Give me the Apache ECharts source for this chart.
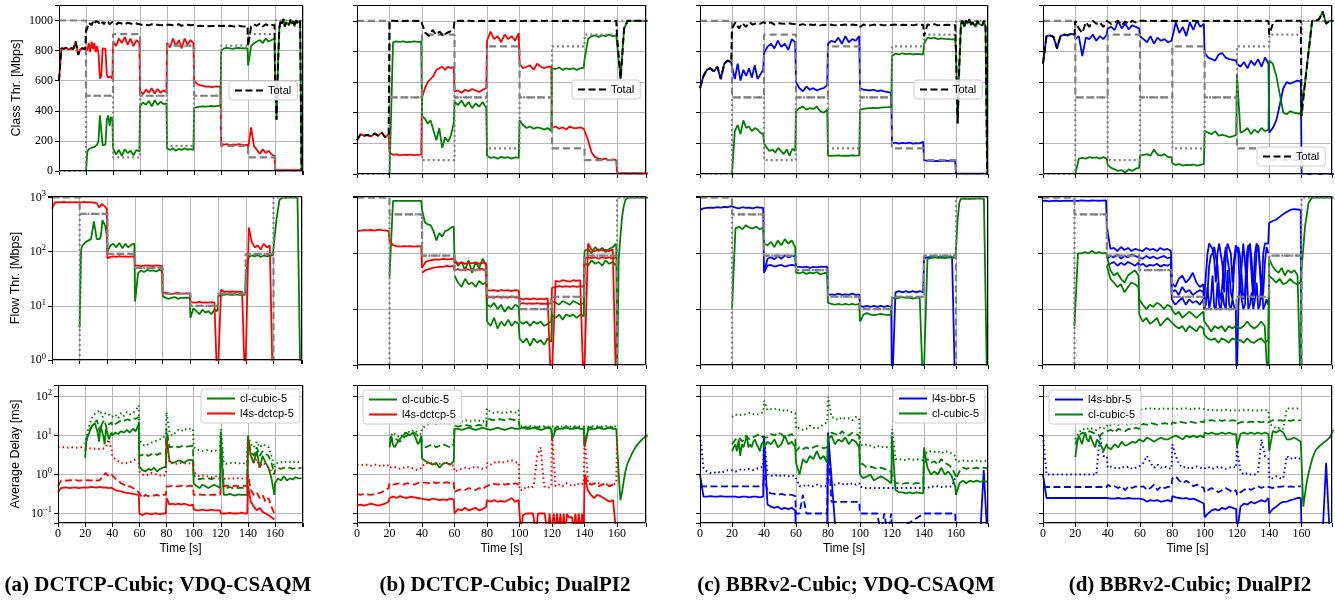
<!DOCTYPE html>
<html><head><meta charset="utf-8">
<script src="https://cdn.jsdelivr.net/npm/echarts/dist/echarts.min.js"></script>
<style>html,body{margin:0;padding:0;background:#fff}#c{width:1335px;height:600px}</style>
</head><body><div id="c"></div>
<script>
// ===================== DATA (values per 20 s phase) =====================
const EXP_L4S_CLASS = [1000,500,909,500,833,500,167,91,0];
const EXP_CL_CLASS  = [0,500,91,500,167,500,833,909,1000];
const EXP_FLOW_L4S  = [1000,500,90.9,50,16.7,10,16.7,90.9,0.01];
const EXP_FLOW_CL   = [0.01,500,90.9,50,16.7,10,16.7,90.9,1000];
const X_TICKS = [0,20,40,60,80,100,120,140,160];

// ---------- (a) DCTCP-Cubic; VDQ-CSAQM ----------
const A1_l4s = [[600,815,812,818,808,815,812,860,772,812,815,810],
 [820,800,850,790,860,810,850,790,830,780,615,630,815,805,812,640,620,615,630,610],
 [860,830,880,850,890,840,880,830,870,850],[530,510,540,520,550,515,545,520,535,525],
 [850,820,880,830,870,815,880,840,870,850],[600,580,570,565,560,562,558,560,562,560],
 [180,175,178,172,176,174,178,175,172,176],[150,290,165,140,115,145,120,135,110,100],[5,5,5,5]];
const A1_cl = [null,
 [0,130,145,150,155,160,160,170,175,200,370,360,170,165,175,340,370,300,360,340],
 [150,110,140,100,145,120,135,105,140,130],[430,455,440,465,430,470,440,460,445,450],
 [150,140,150,135,148,140,150,142,145,140],[420,425,428,430,428,430,432,430,433,435],
 [800,815,818,815,812,816,818,815,816,815],[700,830,850,860,870,850,880,860,870,880],
 [600,340,700,950,1000,980,1010,960,990,1000,970,1005,980,995,960,1000,985,990,1000,0]];
const A1_tot = [[600,815,812,818,808,815,812,860,772,812,815,810],
 [930,950,985,990,970,990,975,995,985,990,970,980,990,975,995,985,990,975,985,990],
 [990,975,985,980,975,985,980,975,980,975],[975,970,972,968,975,970,972,968,970,972],
 [970,972,968,970,975,965,970,972,968,970],[965,962,965,963,965,962,964,963,965,963],
 [963,965,960,965,962,960,965,962,960,963],[830,960,975,965,980,960,975,965,970,968],
 [600,340,700,950,1000,980,1010,960,990,1000,970,1005,980,995,960,1000,985,990,1000,0]];
const A2_l4s = [[620,810,820,815,825,810,820,815,820,810],
 [820,810,830,815,820,810,800,780,650,760,700,620],
 [75,80,82,80,83,81,82,80,82,81],[56,55,54,55,56,55,54,56,55,54],
 [17,17.5,17,16.5,17,17.5,17,16.8,17,17],[12,11.5,11.5,11.8,11.5,11.6,11.5,11.7,11.5,0.3],
 [0.3,20,18,18.5,18,18.5,18,18.3,18,0.3],[0.3,280,150,120,130,110,140,120,130,0.3],null];
const A2_cl = [null,
 [4,110,130,140,150,155,160,165,170,250,360,250,170,160,170,200,380,360,300,200],
 [100,130,140,120,145,115,140,120,135,140],[12,40,45,42,46,44,45,43,46,44],
 [15,14,13.5,14,14.5,13.5,14,14,14.2,14],[6,9,8,7,8.5,7.5,8,7,8.5,8],
 [15,16,16,16.5,16,16,16.2,16,16,16],[40,80,85,82,86,80,85,82,84,85],
 [90,400,900,1000,980,1000,990,1000,990,0.3]];
const A3_cl_avg = [null,[2.7,8,10,12,15,18,20,21,19,12,7,18,20,10,6,15,12,8,10,12],
 [10,12,11,13,12,14,12,15,13,20],[1.6,1.3,1.2,1.4,1.3,1.5,1.2,1.4,1.5,1.6],
 [10,2.2,2.0,2.1,2.3,2.2,2.0,2.3,2.4,2.3],[0.6,0.5,0.45,0.55,0.5,0.45,0.5,0.55,0.5,0.45],
 [10,0.3,0.3,0.32,0.3,0.29,0.31,0.3,0.3,0.3],[10,3,2,4,1.5,3,2,1.5,0.8,0.3],
 [0.6,0.8,0.7,0.9,0.7,0.8,0.75,0.85,0.8,0.8]];
const A3_cl_med = [null,[4,10,15,18,22,25,12,20,25,15,20,22],[18,20,22,25,24,26,25,28,27,30],
 [3,3.2,3.5,3,3.3,3.6,3.2,3.5,3.4,3.3],[15,5,5.2,5.5,5,5.3,5.5,5.2,5.4,5.5],
 [1,0.8,0.75,0.8,0.78,0.8,0.76,0.8,0.78,0.8],[12,0.5,0.45,0.48,0.45,0.47,0.45,0.46,0.45,0.46],
 [8,4,3,5,3,4,3.5,3,2,1],[1.3,1.5,1.4,1.5,1.45,1.5,1.4,1.5,1.45,1.5]];
const A3_cl_p99 = [null,[6,15,25,35,40,45,30,38,35,30],[30,35,28,38,32,40,35,38,45,60],
 [8,6,5.5,6,6.5,7,7.5,8,9,10],[40,12,10,12,14,13,15,14,15,15],[5,4.5,4.2,4,4.2,4.3,4,4.2,4.1,4.2],
 [15,2,1.9,2,1.95,2,1.9,2,1.95,2],[10,6,5,7,5,6,5.5,5,3,1.5],[1.8,2,2.1,2,2.2,2.1,2,2.2,2.1,2.2]];
const A3_l4s_avg = [[0.35,0.45,0.46,0.47,0.45,0.46,0.47,0.45,0.46,0.47],
 [0.47,0.46,0.48,0.47,0.46,0.48,0.46,0.47,0.45,0.46],[0.42,0.4,0.38,0.37,0.35,0.34,0.33,0.32,0.31,0.3],
 [0.1,0.09,0.1,0.1,0.095,0.1,0.1,0.095,0.1,0.1],[0.25,0.17,0.18,0.17,0.18,0.17,0.18,0.17,0.16,0.17],
 [0.13,0.12,0.12,0.125,0.12,0.12,0.125,0.12,0.12,0.12],[0.1,0.1,0.1,0.105,0.1,0.1,0.1,0.105,0.1,0.1],
 [0.5,0.2,0.15,0.12,0.14,0.11,0.1,0.09,0.08,0.07],null];
const A3_l4s_med = [[0.5,0.7,0.72,0.7,0.72,0.7,0.72,0.7,0.71,0.7],[0.7,0.72,0.7,0.75,0.7,0.72,0.9,1.1,0.9,1.0],
 [1.0,0.8,0.7,0.6,0.55,0.5,0.5,0.45,0.4,0.35],[0.35,0.25,0.3,0.28,0.3,0.29,0.3,0.28,0.3,0.3],
 [0.5,0.5,0.52,0.5,0.5,0.52,0.5,0.5,0.52,0.5],[0.3,0.3,0.31,0.3,0.3,0.31,0.3,0.3,0.31,0.3],
 [0.5,0.5,0.52,0.5,0.5,0.52,0.5,0.5,0.52,0.5],[1,0.4,0.3,0.35,0.25,0.3,0.2,0.25,0.15,0.1],null];
const A3_l4s_p99 = [[5,5,5,4.9,5,5,4.9,5,5,5],[5,4.8,4.7,4.6,4.7,4.5,4.6,5,8,4.5],
 [3,2.5,2.2,2,1.9,2,2.1,2.2,2.5,2.6],[1.2,1,0.95,1,1.1,1.05,1,0.95,0.9,1],
 [8,2,1.95,1.9,1.9,2,1.95,1.9,1.95,1.9],[1.2,1,0.9,0.95,0.9,0.9,0.85,0.9,0.9,0.85],
 [0.8,0.8,0.75,0.8,0.8,0.78,0.8,0.8,0.78,0.8],[8,3,2,2.5,1.5,2,1.8,1.5,1.2,1],null];

// ---------- (b) DCTCP-Cubic; DualPI2 ----------
const B1_l4s = [[220,260,250,255,245,265,250,270,240,260],[140,125,128,122,126,124,127,123,125,126],
 [500,560,600,620,640,680,690,700,680,700,690,700],[540,545,530,550,540,555,545,535,550,560],
 [870,930,880,900,860,910,880,900,870,920],[720,690,700,710,680,720,700,690,700,700],
 [300,310,295,305,290,310,300,300,305,295],[300,220,140,110,100,95,100,90,95,90],[5,5,5,5]];
const B1_cl = [null,[0,860,865,862,866,860,863,865,862,864],
 [380,360,330,350,280,220,300,170,240,210,250,330],[470,450,480,440,470,430,460,440,470,430],
 [120,105,110,100,112,105,110,100,108,105],[350,320,300,310,295,305,300,290,300,280],
 [690,685,695,680,690,685,690,680,690,695],[750,880,900,905,895,905,900,910,900,905],
 [900,620,950,1000,1000,1000,1000,1000,1000,1000]];
const B1_tot = [[220,260,250,255,245,265,250,270,240,260],[1000,1000,998,1000,999,1000,998,1000,999,1000],
 [980,920,900,940,910,930,900,920,930,950],[1000,998,1000,999,1000,998,1000,999,1000,998],
 [1000,999,1000,998,1000,999,1000,998,1000,999],[1000,998,1000,999,1000,998,1000,999,1000,998],
 [1000,999,1000,998,1000,999,1000,998,1000,999],[1000,998,1000,999,1000,998,1000,999,1000,998],
 [900,620,950,1000,1000,1000,1000,1000,1000,1000]];
const B2_l4s = [[250,255,260,258,262,255,265,260,258,250],[165,140,135,132,135,133,134,132,135,133],
 [55,70,74,76,78,77,80,78,79,80],[68,66,69,65,68,66,69,65,68,66],[22,21.5,22,21,22,21.5,22,21,22,21.5],
 [15.6,15,15.5,15,15.6,15,15.5,15,15.6,0.3],[0.3,32,31,33,32,31,33,32,33,0.3],
 [0.3,150,115,110,118,112,115,110,118,0.3],null];
const B2_l4s_lo = [null,null,[45,50,52,55,56,58,57,60,58,60],[50,52,50,53,51,52,50,53,52,51],
 [16,16.5,16,17,16,16.5,16,17,16,16.5],[12.5,12.8,12.5,12.7,12.5,12.8,12.5,12.6,12.5,12.7],
 [24,25,26,25,26,25,26,25,26,25],[80,85,82,85,80,85,82,85,80,85],null];
const B2_cl = [null,[38,870,870,872,870,868,870,872,870,870],
 [600,360,330,320,250,170,230,200,250,260,290,300],[80,60,70,50,75,45,70,55,80,60],
 [12,11,13,10,12,9,11,10,12,11],[6,5.5,6,5,6,5.5,6,5,5.5,6],[14,13,12,14,13,12,14,13,12,13],
 [110,120,100,130,110,125,105,120,130,150],
 [0.5,80,200,450,700,900,980,1000,1000,1000,1000,1000,1000,1000,1000,1000,1000,1000,1000,1000]];
const B2_cl_lo = [null,null,null,[40,30,25,35,28,30,25,32,28,30],[6,5,7,4.5,6,5,6.5,5,6,5.5],
 [3,2.5,3,2.2,3,2.5,2.8,2.3,3,2.6],[8,7,8,6.5,8,7.5,8,7,8,7.5],[70,60,75,65,70,60,75,65,70,60],null];
const B3_cl_avg = [null,[5,10,6,5,6,7,8,9,10,11,12,11,10,9,12,10,8,6,7,10],
 [2.6,2.2,2,1.8,2,1.5,1.9,2,1.8,2.2],[15,15,14,15,16,15,14,15,16,15],[15,14,15,16,15,14,15,16,15,15],
 [15,16,15,15,16,15,14,15,16,15],[8,14,15,15,16,15,15,16,15,15],[5,14,15,15,16,15,15,16,15,15],
 [15,1,0.22,0.35,0.7,1.2,1.8,2.3,2.8,3.5,4.2,5,5.7,6.5,7.3,8,8.8,9.5,10.2,10.5]];
const B3_cl_med = [null,[6,9,8,7,9,10,11,12,10,9],[6,5,5.5,6,5,5.5,6,5.5,5,6],
 [18,17,18,19,18,17,18,19,18,17],[28,26,25,27,26,25,27,26,25,24],[16,16.5,16,16.5,16,16.5,16,16.5,16,16.5],
 [10,16,16.5,16,16.5,16,16.5,16,16.5,16],[6,16,16.5,16,16.5,16,16.5,16,16.5,16],null];
const B3_cl_p99 = [null,[8,12,10,9,11,13,12,14,12,11],[15,18,20,22,20,21,22,20,21,22],
 [22,24,23,25,24,23,25,24,23,25],[50,40,38,40,39,38,40,41,39,45],[17,17.5,17,17.5,17,17.5,17,17.5,17,17.5],
 [17,17,17.5,17,17.5,17,17.5,17,17.5,17],[17,17,17.5,17,17.5,17,17.5,17,17.5,17],null];
const B3_l4s_avg = [[0.16,0.17,0.16,0.17,0.18,0.17,0.16,0.17,0.18,0.2],[0.25,0.27,0.25,0.28,0.26,0.25,0.27,0.26,0.25,0.24],
 [0.22,0.23,0.22,0.24,0.23,0.22,0.23,0.22,0.24,0.23],[0.1,0.13,0.12,0.14,0.12,0.13,0.14,0.12,0.13,0.15],
 [0.22,0.2,0.22,0.2,0.21,0.2,0.22,0.25,0.2,0.22],
 [0.1,0.03,0.09,0.1,0.1,0.1,0.1,0.1,0.1,0.1,0.03,0.1,0.1,0.1,0.1,0.1,0.1,0.03,0.1,0.03],
 [0.03,0.1,0.03,0.1,0.03,0.1,0.03,0.1,0.03,0.1,0.08,0.08,0.08,0.03,0.1,0.03,0.1,0.03,0.1,0.03],
 [1,0.4,0.3,0.25,0.3,0.28,0.25,0.22,0.2,0.22,0.03],null];
const B3_l4s_med = [[0.32,0.3,0.32,0.31,0.3,0.32,0.33,0.35,0.4,0.45],[0.6,0.55,0.58,0.6,0.55,0.6,0.58,0.55,0.6,0.62],
 [0.6,0.62,0.6,0.65,0.6,0.62,0.6,0.64,0.6,0.62],[0.35,0.4,0.42,0.4,0.45,0.42,0.4,0.45,0.42,0.5],
 [0.5,0.55,0.58,0.55,0.6,0.55,0.58,0.55,0.6,0.55],null,null,[1,0.6,0.55,0.6,0.5,0.55,0.6,0.5,0.55,0.6],null];
const B3_l4s_p99 = [[1.8,1.8,1.75,1.8,1.7,1.8,1.75,1.6,1.8,1.7],[1.5,1.6,1.5,1.4,1.5,1.6,1.5,1.4,1.3,1.5],
 [1.5,2,1.9,2,1.8,1.9,2,1.9,1.8,1.7],[1.2,1.3,1.4,1.5,1.4,1.5,1.6,1.5,1.4,1.5],
 [2,1.8,2,2.2,2,2.1,2.2,2.3,2.1,2],[0.4,0.4,0.5,0.45,0.5,3,5,0.5,0.45,0.5],
 [10,0.5,0.55,0.5,0.6,0.55,0.5,0.6,0.55,0.6],[10,0.6,0.55,0.6,0.6,0.55,0.6,0.5,0.55,0.6],[8]];

// ---------- (c) BBRv2-Cubic; VDQ-CSAQM ----------
const C1_l4s = [[560,640,680,690,670,700,620,720,740,730],[700,620,720,610,680,640,690,630,710,620,650,680],
 [790,830,850,820,870,830,850,810,880,860],[600,560,540,570,550,560,545,555,560,580],
 [850,870,860,890,850,900,860,880,870,900],[560,550,548,545,550,540,545,540,535,530],
 [200,205,198,203,200,205,198,202,200,210],[90,85,87,84,86,85,88,86,87,84],[2,2,2,2]];
const C1_cl = [null,[0,280,320,260,350,300,310,280,300,290,270,260],
 [200,170,150,160,140,170,150,130,160,120,165,150],[410,430,440,420,430,425,440,410,400,420],
 [120,118,120,122,118,120,119,121,120,122],[420,425,428,430,432,430,433,435,436,438],
 [770,785,780,788,782,785,780,784,782,780],[850,890,885,890,880,885,882,880,878,880],
 [800,330,700,980,1000,960,1000,980,1010,970,990,1000,960,1000,980,990,970,1000,960,0]];
const C1_tot = [[560,640,680,690,670,700,620,720,740,730],[950,990,950,985,960,990,975,985,980,990],
 [985,980,990,975,985,982,980,985,980,978],[975,972,978,970,975,972,976,970,974,972],
 [972,975,970,974,972,976,970,975,972,974],[960,975,972,970,975,972,974,970,973,972],
 [972,975,970,974,972,976,970,975,972,974],[900,975,972,978,970,975,972,974,970,972],
 [800,330,700,980,1000,960,1000,980,1010,970,990,1000,960,1000,980,990,970,1000,960,0]];
const C2_l4s = [[600,640,650,660,650,670,660,680,670,700],[650,660,640,670,650,660,640,670,660,650],
 [45,80,85,78,90,80,92,85,88,90],[58,57,56,58,55,57,56,58,57,58],[18,18.5,18,19,18,18.5,18,19,18,18.5],
 [11.5,11,11.5,11,11.5,11,11.5,11,11.5,11],[0.3,20,21,20,21,20,21,20,21,20],
 [80,85,86,87,85,86,87,85,86,87,0.3],null];
const C2_l4s_lo = [null,null,[45,60,62,58,60,62,58,60,62,60],null,null,null,null,null,null];
const C2_cl = [null,[10,280,300,270,320,290,280,300,270,290],[150,140,160,130,170,140,180,150,170,130],
 [45,44,46,43,45,44,46,42,44,45],[13,12.5,12,12.5,12,12.5,12,12.5,12,12.5],[6,8,8.5,8,7.8,8,8.2,8,7.8,8],
 [16,15.5,16,16.5,16,16,15.5,16,16,0.3],[0.3,80,82,85,83,84,82,85,83,84],
 [120,400,800,950,960,950,940,960,950,945,960,950,940,955,950,960,945,950,955,0.3]];
const C3_l4s_avg = [[1,0.27,0.27,0.28,0.27,0.27,0.28,0.27,0.27,0.27],[0.27,0.27,0.26,0.27,0.27,0.26,0.27,0.27,0.26,0.27],
 [10,0.17,0.15,0.14,0.15,0.13,0.14,0.13,0.14,0.12],[0.03,0.03,0.03,0.03,0.03],[12,0.03,0.03,0.03,0.03],
 [0.03],[0.03],[0.03],[0.03,0.03,0.03,0.03,0.03,0.03,0.03,0.03,1.3,0.03]];
const C3_l4s_med = [[0.5,0.5,0.5,0.5,0.5,0.5,0.5,0.5,0.5,0.5],[0.5,0.5,0.5,0.5,0.5,0.5,0.5,0.5,0.5,0.5],
 [1,0.35,0.33,0.32,0.3,0.32,0.3,0.31,0.3,0.28],[0.1,0.1,0.3,0.1,0.1,0.1,0.1,0.1,0.1,0.1],
 [8,0.2,0.2,0.2,0.2,0.2,0.2,0.2,0.2,0.2],[0.1,0.1,0.1,0.1,0.1,0.1,0.03,0.1,0.03,0.1],[0.03],
 [0.1,0.1,0.1,0.1,0.1,0.1,0.1,0.1,0.1,0.1],[0.03]];
const C3_l4s_p99 = [[10,1.5,1.2,1.1,1.1,1.2,1.1,1.2,1.3,1.3],[1.3,1.2,1.3,1.4,1.3,1.4,1.3,1.4,1.5,1.6],
 [10,1,0.95,0.9,1,0.9,0.95,0.9,0.95,0.9],[0.8,0.5,0.5,0.55,0.5,0.5,0.55,0.5,0.5,0.5],
 [10,0.6,0.55,0.6,0.55,0.6,0.55,0.6,0.55,0.6],[0.5,0.45,0.45,0.45,0.45,0.45,0.45,0.45,0.45,0.45],
 [0.45,0.45,0.45,0.45,0.45,0.45,0.45,0.45,0.45,0.45],[0.5,0.45,0.5,0.48,0.5,0.48,0.5,0.48,0.5,0.8],null];
const C3_cl_avg = [null,[4,5,6,4,8,3,6,5,7,10,5,6,5,7,8,6,5,4,6,7],[5,7,6,8,5,6,10,6,7,5],
 [2,1,2.5,2,3,2.5,4,2.5,3,2],[8,10,6,8,7,9,6,8,7,5],[1,0.8,0.9,1,0.7,0.8,0.9,0.8,0.7,0.6],
 [10,0.4,0.35,0.35,0.33,0.35,0.33,0.35,0.34,0.33],[5,1.5,1,1.2,1,1.5,1,1.2,0.9,0.5],
 [0.3,0.6,0.7,0.6,0.7,0.65,0.7,0.65,0.7,0.65]];
const C3_cl_med = [null,[6,8,9,7,10,8,9,10,11,9],[10,9,11,10,12,11,9,10,11,8],[4,5,4.5,5,4.5,5,5.5,5,4.8,5],
 [10,12,11,10,13,11,10,12,11,10],[2,1.8,1.5,1.6,1.5,1.4,1.5,1.4,1.3,1.2],[1,0.6,0.6,0.58,0.6,0.6,0.58,0.6,0.6,0.58],
 [2,2.5,2,2.2,1.8,2.5,2,1.8,1.5,1],[0.8,1.2,1.5,1.4,1.5,1.45,1.5,1.4,1.5,1.45]];
const C3_cl_p99 = [null,[30,35,33,36,35,38,36,34,37,40],[80,45,48,50,45,48,42,45,40,38],
 [15,16,14,15,18,16,15,17,20,22],[100,30,28,25,30,27,28,25,30,28],[6,5.5,6,5.5,5,5.5,5,5.2,5,5],
 [15,2.5,2.4,2.5,2.3,2.5,2.4,2.5,2.4,2.3],[4,3.5,4,3.8,4,3.5,4,3.8,3.5,3],[2.2,2.2,2.3,2.2,2.3,2.2,2.3,2.2,2.2,2.3]];

// ---------- (d) BBRv2-Cubic; DualPI2 ----------
const D1_l4s = [[720,900,905,895,820,900,910,905,915,910],[880,900,770,890,880,910,870,900,880,910],
 [950,960,940,1000,950,980,945,970,960,950],[900,880,860,900,850,890,870,880,860,870],
 [880,990,920,960,900,990,940,1000,960,980],[790,760,750,740,780,790,760,750,745,740],
 [720,700,730,690,740,710,750,700,760,720],[270,300,350,450,560,600,590,600,610,605],[0,0,0]];
const D1_cl = [null,[0,100,105,100,110,105,108,100,110,100],[60,40,30,20,25,10,30,20,35,40],
 [120,125,130,120,160,125,120,130,110,110],[70,60,65,55,60,58,62,55,60,65],
 [280,270,260,280,250,255,250,240,245,255],[650,270,280,300,260,290,270,300,280,290],
 [740,720,640,520,400,390,410,400,395,395],[400,600,800,1000,1000,1010,1060,980,1000,1000]];
const D1_tot = [[720,900,905,895,820,900,910,905,915,910],[1000,950,920,990,960,1000,980,990,960,1000],
 [1000,980,990,1000,970,995,980,1000,990,1000],[1000,1000,998,1000,999,1000,998,1000,999,1000],
 [1000,999,1000,998,1000,999,1000,998,1000,999],[1000,998,1000,999,1000,998,1000,999,1000,998],
 [1000,999,1000,998,1000,999,1000,998,1000,999],[910,980,1000,1000,1000,1000,1000,1000,1000,1000],
 [380,600,800,1000,1000,1010,1060,980,1000,1000]];
const D2_l4s = [[860,880,850,870,880,860,870,880,870,880],[880,870,890,880,870,885,880,875,880,885],
 [300,120,125,110,130,115,125,110,120,115],[120,110,125,115,120,110,125,115,120,110],
 [30,25,35,40,30,35,45,30,25,28],
 [15,40,100,150,140,120,80,30,100,150,140,60,20,90,150,140,100,30,80,140],
 [150,100,20,60,150,140,30,120,150,80,20,100,150,130,50,20,100,150,140,150],
 [350,380,400,450,500,550,600,620,610,600],[0.3]];
const D2_l4s_mid = [null,null,[80,90,85,95,80,90,85,95,90,85],[85,80,90,82,88,80,85,90,82,85],
 [20,22,18,25,20,22,18,20,22,20],[12,15,20,60,90,100,130,120,60,20,15,30,80,130,120,50,20,15,60,110],
 [110,130,90,40,15,20,90,140,120,40,15,30,110,140,60,15,20,70,130,100],null,null];
const D2_l4s_lo = [null,null,[60,65,70,60,68,62,70,65,60,68],[60,65,58,62,60,65,58,62,60,65],
 [15,12,14,16,12,15,13,14,12,15],[10,12,25,10,15,40,11,10,30,12,10,20,12,10,50,12,10,15,11,10],
 [0.3,10,40,15,10,12,60,10,12,20,10,15,30,10,12,40,10,12,15,12],null,null];
const D2_cl = [null,[5,100,100,105,100,110,100,105,100,102],[90,50,40,45,35,30,40,45,50,40],
 [15,12,10,12,11,13,12,10,12,11],[10,8,9,7,8,9,8,7,8,9],[6,5,4,5,4.5,5,4,5,4.5,5],
 [5,4.5,5,6,5,4.5,5,6,5,0.3],[80,60,50,45,55,40,50,45,50,40,0.3],
 [50,300,800,1000,1000,1000,1000,1000,1000,1000]];
const D2_cl_lo = [null,null,[60,35,30,25,28,20,25,30,28,25],[8,6,7,5.5,6,7,5,6,7,6],[6,5,4.5,5,4,5,4.5,4,5,4.5],
 [3.5,3,2.8,3,2.5,3,2.8,2.5,3,2.8],[3,2.8,2.5,3,2.6,2.5,2.8,3,2.5,2.8],[40,35,30,35,28,30,35,30,28,30],null];
const D3_l4s_avg = [[1,0.25,0.25,0.25,0.25,0.25,0.25,0.25,0.25,0.25],[0.25,0.25,0.25,0.25,0.25,0.25,0.25,0.25,0.25,0.25],
 [0.27,0.24,0.24,0.25,0.24,0.24,0.25,0.24,0.24,0.24],[0.22,0.23,0.2,0.22,0.21,0.22,0.2,0.21,0.22,0.2],
 [0.28,0.26,0.25,0.24,0.25,0.23,0.24,0.22,0.2,0.18],[0.08,0.1,0.12,0.13,0.12,0.14,0.13,0.15,0.14,0.13],
 [0.03,0.15,0.18,0.17,0.2,0.18,0.2,0.22,0.2,0.25],[0.1,0.13,0.15,0.18,0.2,0.2,0.22,0.23,0.25,0.25],
 [0.03,0.03,0.03,0.03,0.03,0.03,0.03,2,0.03,0.03]];
const D3_l4s_med = [[0.5,0.48,0.48,0.48,0.48,0.48,0.48,0.48,0.48,0.48],[0.48,0.48,0.48,0.48,0.48,0.48,0.48,0.48,0.48,0.48],
 [0.55,0.48,0.5,0.45,0.5,0.4,0.5,0.45,0.5,0.48],[0.45,0.5,0.4,0.45,0.55,0.4,0.5,0.45,0.48,0.5],
 [0.8,0.9,0.7,0.6,0.7,0.6,0.5,0.55,0.5,0.45],[0.35,0.4,0.45,0.4,0.35,0.4,0.45,0.4,0.35,0.4],
 [0.3,0.35,0.4,0.45,0.4,0.45,0.5,0.45,0.5,0.48],[0.48,0.45,0.5,0.48,0.5,0.48,0.5,0.48,0.5,0.5],null];
const D3_l4s_p99 = [[10,1,1,1,1,1,1,1,1,1],[1,1,1,1,1,1,1,10,3,3],[1.5,1.6,1.5,1.4,1.6,1.5,1.6,1.4,1.5,1.6],
 [1.5,2,3,2,1.5,1.8,1.5,1.6,1.5,1.4],[6,3,1.8,1.5,1.6,1.4,1.5,1.6,1.5,1.4],[1.5,1.6,1.4,1.5,1.6,1.5,1.4,1.5,1.6,1.5],
 [5,1.2,1,1.1,1,1,1.1,8,3,2.5],[0.8,0.8,0.9,0.8,0.8,3,2.5,2.8,2.5,2.6],null];
const D3_cl_avg = [null,[2.8,6,10,8,6,9,12,8,7,10,9,6,5,8,7,6,5,4,5,6],[5,4.5,6,5,7,5.5,6,7,6.5,8],
 [8,7,9,8,7,8,9,8,8,9],[9,10,9,8,10,9,10,9,10,9],[12,11,12,11,11,12,11,12,11,11],
 [5,11,12,11,12,11,12,11,12,11],[4,13,12,14,12,8,8,9,8,7],
 [7,0.15,0.3,0.6,1.0,1.5,2.2,3,3.8,4.5,5,5.5,6,6.5,7,7.5,8,9,11,14]];
const D3_cl_med = [null,[6,10,12,11,13,12,11,10,12,13],[12,14,12,15,14,13,15,14,16,15],
 [18,20,19,21,20,19,20,21,20,19],[22,21,23,22,21,23,22,21,23,22],[25,24,25,24,25,24,25,24,25,24],
 [20,22,23,22,23,22,23,22,23,22],[22,25,24,25,24,25,24,25,24,25],null];
const D3_cl_p99 = [null,[8,12,15,14,16,15,14,16,15,17],[20,18,20,19,21,20,19,21,20,22],
 [45,50,48,50,49,50,48,50,49,50],[50,48,50,49,50,48,50,49,50,48],[48,46,45,46,44,45,46,44,45,44],
 [45,44,45,46,44,45,44,45,46,44],[20,18,15,16,15,50,50,50,50,50],null];

// ===================== BUILD =====================
const SANS = '"Liberation Sans", Arial, sans-serif';
const SERIF = '"Liberation Serif", "DejaVu Serif", serif';
const RED='#ff0000', GREEN='#008000', BLUE='#0000ff', GRAY='#808080', BLACK='#000000';

function ph(p, end){
  const o=[];
  p.forEach((a,k)=>{
    if(!a){o.push([k*20,null]);return;}
    const n=a.length;
    a.forEach((v,i)=>o.push([k*20 + (n>1 ? 19.5*i/(n-1) : 0), v]));
  });
  const last=p[p.length-1];
  if(last && end) o.push([end, last[last.length-1]]);
  return o;
}
function steps(vals){
  const o=[];
  vals.forEach((v,k)=>{o.push([k*20,v]);o.push([(k+1)*20,v]);});
  return o;
}

const COLS = [
 {xmax:180.6, lc:RED, ln:'l4s-dctcp-5', clFirst:true,
  r1:[A1_l4s,A1_cl,A1_tot], r2l:[A2_l4s], r2c:[A2_cl],
  r3l:[A3_l4s_avg,A3_l4s_med,A3_l4s_p99], r3c:[A3_cl_avg,A3_cl_med,A3_cl_p99],
  leg1:[229,81], leg3:[201,389], cap:'(a) DCTCP-Cubic; VDQ-CSAQM', capX:158},
 {xmax:177.8, lc:RED, ln:'l4s-dctcp-5', clFirst:true,
  r1:[B1_l4s,B1_cl,B1_tot], r2l:[B2_l4s,B2_l4s_lo], r2c:[B2_cl,B2_cl_lo],
  r3l:[B3_l4s_avg,B3_l4s_med,B3_l4s_p99], r3c:[B3_cl_avg,B3_cl_med,B3_cl_p99],
  leg1:[572,80], leg3:[363,390], cap:'(b) DCTCP-Cubic; DualPI2', capX:505},
 {xmax:180, lc:BLUE, ln:'l4s-bbr-5', clFirst:false,
  r1:[C1_l4s,C1_cl,C1_tot], r2l:[C2_l4s,C2_l4s_lo], r2c:[C2_cl],
  r3l:[C3_l4s_avg,C3_l4s_med,C3_l4s_p99], r3c:[C3_cl_avg,C3_cl_med,C3_cl_p99],
  leg1:[914,80], leg3:[893,389], cap:'(c) BBRv2-Cubic; VDQ-CSAQM', capX:846},
 {xmax:178.8, lc:BLUE, ln:'l4s-bbr-5', clFirst:false,
  r1:[D1_l4s,D1_cl,D1_tot], r2l:[D2_l4s,D2_l4s_mid,D2_l4s_lo], r2c:[D2_cl,D2_cl_lo],
  r3l:[D3_l4s_avg,D3_l4s_med,D3_l4s_p99], r3c:[D3_cl_avg,D3_cl_med,D3_cl_p99],
  leg1:[1257,147], leg3:[1049,390], cap:'(d) BBRv2-Cubic; DualPI2', capX:1190}
];
const BOXES = [
 [[59,5,244,166],[357,5,289,169],[700,5,288,169],[1043,5,289,169]],
 [[52,196,250,164],[357,196,289,169],[700,196,288,169],[1042,196,290,169]],
 [[58,385,245,138],[357,385,289,138],[700,385,288,138],[1043,385,289,138]]
];
const DASH=[7,3.5], DOT=[1.5,3], GDASH=[7,4], GDOT=[2,3];
const ICON_SOLID = 'path://M0,0h0.01v0.01h-0.01zM27.99,9.99h0.01v0.01h-0.01zM0,4.1h28v1.8h-28z';
const ICON_DASH = 'path://M0,0h0.01v0.01h-0.01zM27.99,9.99h0.01v0.01h-0.01zM0,4h7v2h-7zM10.5,4h7v2h-7zM21,4h7v2h-7z';

const grids=new Array(12), xAxes=new Array(12), yAxes=new Array(12), series=[], legends=[], graphics=[];
const supFmt = v => { const l=Math.log10(v), e=Math.round(l); if(Math.abs(l-e)>1e-6) return ''; return '{b|10}{s|'+(e<0?'\u2212'+(-e):e)+'}'; };
const rich = {b:{fontFamily:SERIF,fontSize:12,color:'#000'}, s:{fontFamily:SERIF,fontSize:8.5,color:'#000',padding:[0,0,7,0]}};

function line(gi, data, color, type, width, z, name){
  series.push({type:'line', xAxisIndex:gi, yAxisIndex:gi, data, name, symbol:'none', silent:true, animation:false,
    z:z||2, clip:true, connectNulls:false, lineStyle:{color, width:width||1.8, type:type||'solid'}, itemStyle:{color}});
}
const legBase = {orient:'vertical', itemWidth:28, itemHeight:10, itemGap:4, padding:[4,6,4,6], borderColor:'#cccccc',
  borderWidth:1, borderRadius:3, backgroundColor:'rgba(255,255,255,0.85)', selectedMode:false, z:20,
  textStyle:{fontFamily:SANS, fontSize:11, color:'#000'}};

COLS.forEach((c,ci)=>{
  for(let r=0;r<3;r++){
    const gi=r*4+ci, b=BOXES[r][ci];
    grids[gi] = {left:b[0], top:b[1], width:b[2], height:b[3], containLabel:false};
    graphics.push({type:'rect', shape:{x:b[0]+0.5, y:b[1]+0.5, width:b[2]-1, height:b[3]-1}, style:{fill:'none', stroke:'#000', lineWidth:1}, z:100, silent:true});
    xAxes[gi] = {gridIndex:gi, type:'value', min:0, max:c.xmax, interval:20,
      axisLine:{show:false, onZero:false}, axisTick:{show:true, length:4, lineStyle:{color:'#000'}},
      axisLabel:{show:r===2, margin:5, fontFamily:SERIF, fontSize:12, color:'#000', formatter:v=>(X_TICKS.indexOf(v)>=0? String(v):'')},
      splitLine:{show:true, lineStyle:{color:'#b8b8b8', width:1}},
      name: r===2?'Time [s]':'', nameLocation:'middle', nameGap:20, nameTextStyle:{fontFamily:SANS, fontSize:12, color:'#000'}};
    const ya = {gridIndex:gi, axisLine:{show:false, onZero:false}, axisTick:{show:true, length:4, lineStyle:{color:'#000'}},
      splitLine:{show:true, lineStyle:{color:'#b8b8b8', width:1}}, nameLocation:'middle',
      nameTextStyle:{fontFamily:SANS, fontSize:12.5, color:'#000'}};
    if(r===0){ Object.assign(ya,{type:'value', min:0, max:1103, interval:200,
        axisLabel:{show:ci===0, margin:6, fontFamily:SERIF, fontSize:12, color:'#000', formatter:v=>(v%200===0&&v<=1000?String(v):'')}});
      if(ci===0){ya.name='Class Thr. [Mbps]'; ya.nameGap=36;} }
    if(r===1){ Object.assign(ya,{type:'log', logBase:10, min:1, max:1065,
        axisLabel:{show:ci===0, margin:6, formatter:supFmt, rich}});
      if(ci===0){ya.name='Flow Thr. [Mbps]'; ya.nameGap=30;} }
    if(r===2){ Object.assign(ya,{type:'log', logBase:10, min:0.057, max:200,
        axisLabel:{show:ci===0, margin:6, formatter:supFmt, rich}});
      if(ci===0){ya.name='Average Delay [ms]'; ya.nameGap=36;} }
    yAxes[gi] = ya;
  }
  const g1=ci, g2=4+ci, g3=8+ci;
  line(g1, ph(c.r1[0],180), c.lc);
  line(g1, ph(c.r1[1],180), GREEN);
  line(g1, steps(EXP_L4S_CLASS), GRAY, GDASH, 2.2, 3);
  line(g1, steps(EXP_CL_CLASS), GRAY, GDOT, 2.2, 3);
  line(g1, ph(c.r1[2],180), BLACK, DASH, 2, 4, 'Total');
  const drawL = ()=>c.r2l.forEach(s=>line(g2, ph(s, null), c.lc, 'solid', 1.8));
  const drawC = ()=>c.r2c.forEach(s=>line(g2, ph(s, null), GREEN, 'solid', 1.8));
  if(c.clFirst){drawC(); drawL();} else {drawL(); drawC();}
  line(g2, steps(EXP_FLOW_L4S), GRAY, GDASH, 2.2, 3);
  line(g2, steps(EXP_FLOW_CL), GRAY, GDOT, 2.2, 3);
  const d3 = (arrs,color,name)=>{ line(g3, ph(arrs[0],null), color, 'solid', 1.8, 2, name);
    line(g3, ph(arrs[1],null), color, DASH, 1.8, 2); line(g3, ph(arrs[2],null), color, DOT, 2, 2); };
  if(c.clFirst){ d3(c.r3c,GREEN,'cl-cubic-5'); d3(c.r3l,c.lc,c.ln); }
  else { d3(c.r3l,c.lc,c.ln); d3(c.r3c,GREEN,'cl-cubic-5'); }
  legends.push(Object.assign({}, legBase, {data:[{name:'Total', icon:ICON_DASH}], left:c.leg1[0], top:c.leg1[1]}));
  const names = c.clFirst?['cl-cubic-5',c.ln]:[c.ln,'cl-cubic-5'];
  legends.push(Object.assign({}, legBase, {data: names.map(n=>({name:n, icon:ICON_SOLID})), left:c.leg3[0], top:c.leg3[1]}));
  graphics.push({type:'text', x:c.capX, y:586, z:100, silent:true,
    style:{text:c.cap, font:'bold 21px "Liberation Serif", serif', textAlign:'center', textVerticalAlign:'middle', fill:'#000'}});
});

const chart = echarts.init(document.getElementById('c'), null, {renderer:'canvas'});
chart.setOption({animation:false, backgroundColor:'#fff', grid:grids, xAxis:xAxes, yAxis:yAxes, series, legend:legends, graphic:graphics});
</script></body></html>
